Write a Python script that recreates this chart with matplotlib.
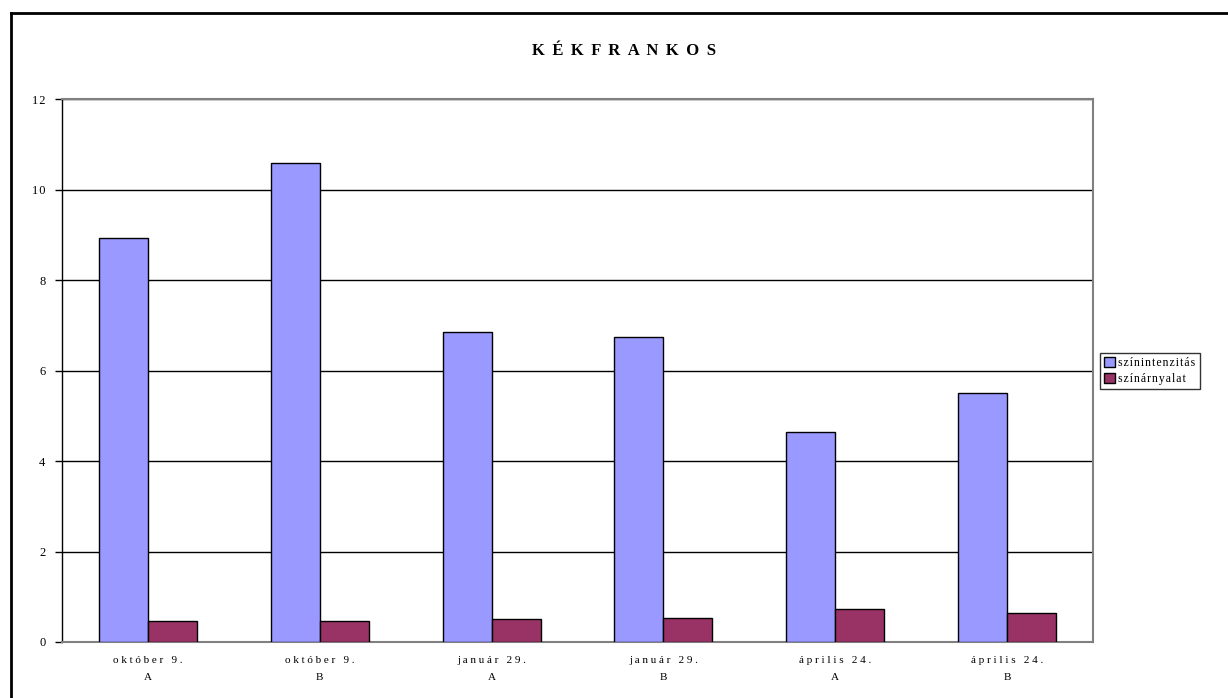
import matplotlib.pyplot as plt
import numpy as np

categories = ["október 9.\nA", "október 9.\nB", "január 29.\nA", "január 29.\nB", "április 24.\nA", "április 24.\nB"]
szinintenzitas = [8.93, 10.58, 6.85, 6.74, 4.64, 5.50]
szinarnyalat = [0.47, 0.46, 0.50, 0.52, 0.72, 0.64]
series_names = ["színintenzitás", "színárnyalat"]


def spaced(s, gap=" "):
    # letter spacing like the original
    return "\n".join(gap.join(line) for line in s.split("\n"))


plt.rcParams["font.family"] = ["Liberation Serif", "DejaVu Serif"]

fig = plt.figure(figsize=(12.28, 6.98), dpi=100)
ax = fig.add_axes([62 / 1228, 1 - 642 / 698, (1093 - 62) / 1228, (642 - 99) / 698])

x = np.arange(len(categories))
w = 0.285
ax.bar(x - w / 2, szinintenzitas, w, color="#9999ff", edgecolor="black", linewidth=1,
       label=spaced(series_names[0], "\u200a"), zorder=3)
ax.bar(x + w / 2, szinarnyalat, w, color="#993366", edgecolor="black", linewidth=1,
       label=spaced(series_names[1], "\u200a"), zorder=3)

ax.set_xlim(-0.5, len(categories) - 0.5)
ax.set_ylim(0, 12)
ax.set_yticks(range(0, 13, 2))
ax.set_yticklabels([spaced(str(v), "\u200a") for v in range(0, 13, 2)])
ax.yaxis.grid(True, color="black", linewidth=1, zorder=0)
ax.set_xticks(x)
ax.set_xticklabels([spaced(c) for c in categories], fontsize=8, linespacing=2.2)
ax.tick_params(axis="x", length=0, pad=10)
ax.tick_params(axis="y", length=5, width=1, labelsize=9, pad=7)

for side in ["top", "right", "bottom"]:
    ax.spines[side].set_color("#808080")
    ax.spines[side].set_linewidth(1.5)
ax.spines["left"].set_color("black")
ax.spines["left"].set_linewidth(1)

fig.text(624 / 1228, 1 - 51 / 698, spaced("KÉKFRANKOS", " \u2009"), ha="center", va="center",
         fontsize=12, fontweight="bold")

leg = fig.legend(loc="center left", bbox_to_anchor=(1100 / 1228, 1 - 371 / 698), fontsize=8.5,
                 frameon=True, fancybox=False, edgecolor="black", handlelength=0.9, handleheight=0.9,
                 handletextpad=0.3, borderpad=0.35, labelspacing=0.3, borderaxespad=0)
leg.get_frame().set_linewidth(1)

# outer chart border (top and left visible)
fig.add_artist(plt.Line2D([11 / 1228, 11 / 1228], [0, 1 - 13 / 698], color="black", linewidth=2,
                          transform=fig.transFigure))
fig.add_artist(plt.Line2D([11 / 1228, 1], [1 - 13 / 698, 1 - 13 / 698], color="black", linewidth=2,
                          transform=fig.transFigure))

fig.savefig("out.png", dpi=100)
